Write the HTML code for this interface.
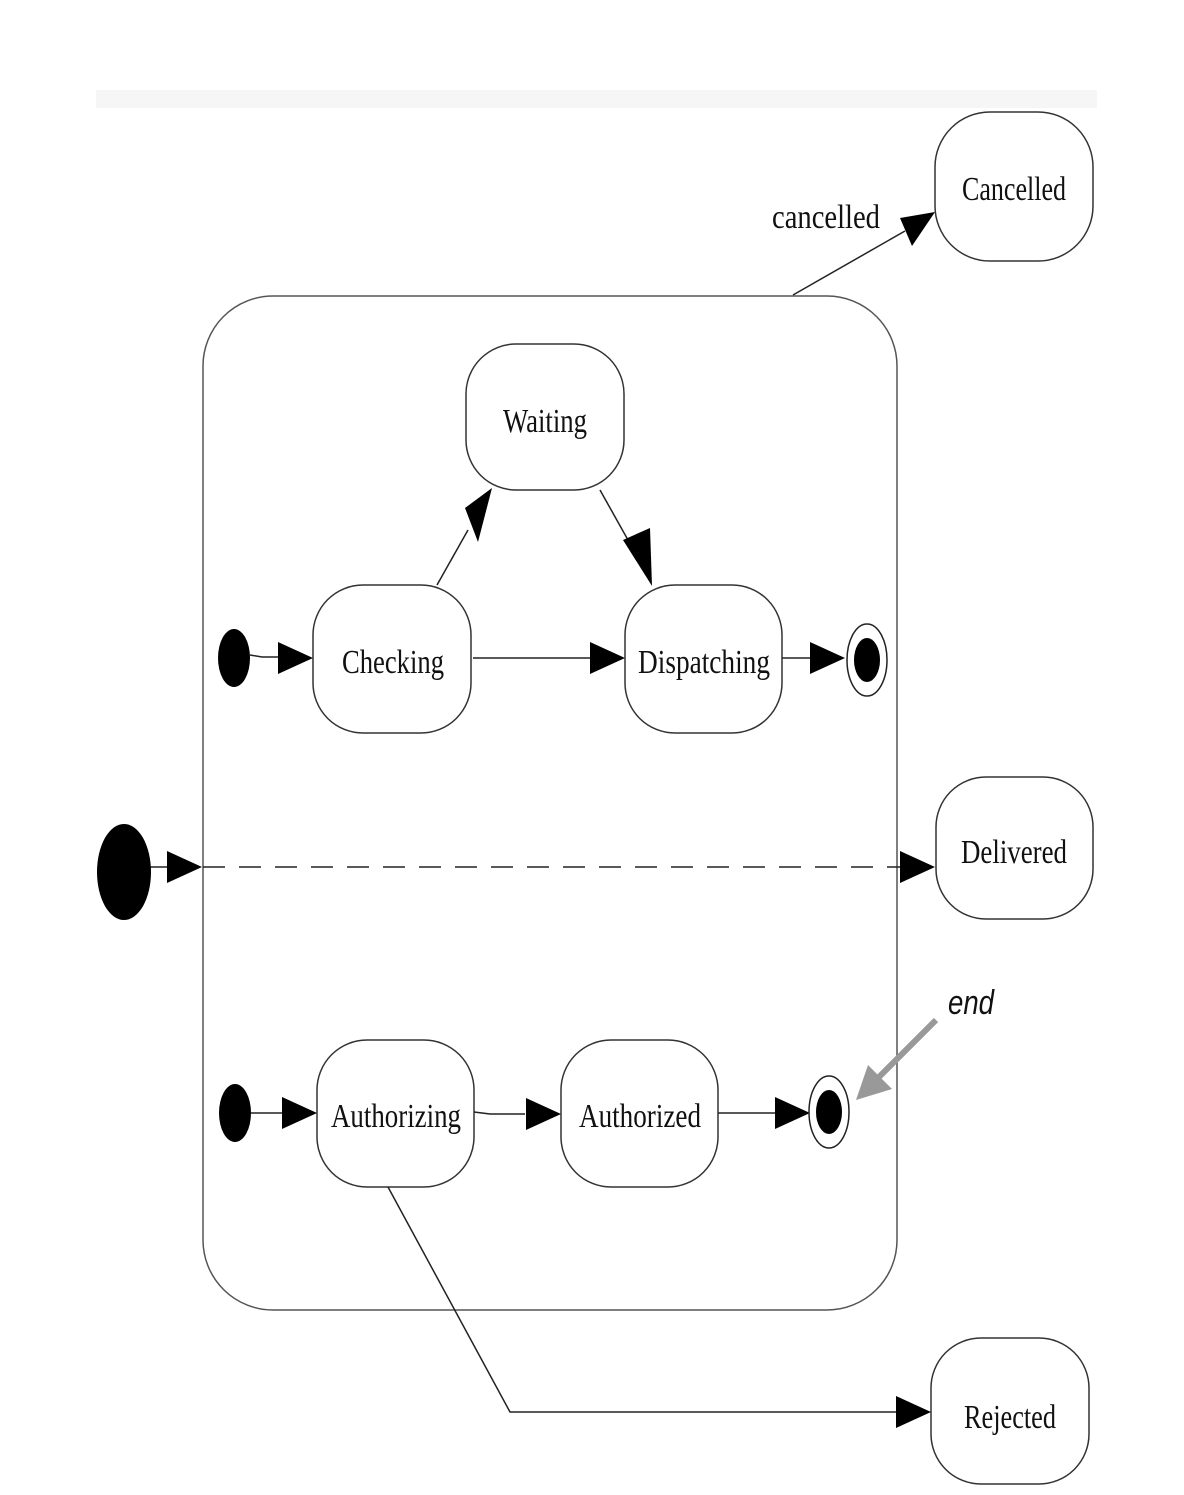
<!DOCTYPE html>
<html><head><meta charset="utf-8"><style>html,body{margin:0;padding:0;background:#fff}svg{display:block}</style></head>
<body>
<svg width="1184" height="1495" viewBox="0 0 1184 1495" xmlns="http://www.w3.org/2000/svg">
<defs>
<marker id="a" markerWidth="10" markerHeight="10" refX="10" refY="5" orient="auto" markerUnits="userSpaceOnUse" viewBox="0 0 10 10"></marker>
</defs>
<rect x="96" y="90" width="1001" height="18" fill="#f6f6f6"/>
<g fill="#fff" stroke="#333" stroke-width="1.5">
<rect x="935" y="112" width="158" height="149" rx="55" ry="55"/>
<rect x="203" y="296" width="694" height="1014" rx="70" ry="70" stroke="#555"/>
<rect x="466" y="344" width="158" height="146" rx="50" ry="50"/>
<rect x="313" y="585" width="158" height="148" rx="50" ry="50"/>
<rect x="625" y="585" width="157" height="148" rx="50" ry="50"/>
<rect x="936" y="777" width="157" height="142" rx="50" ry="50"/>
<rect x="317" y="1040" width="157" height="147" rx="50" ry="50"/>
<rect x="561" y="1040" width="157" height="147" rx="50" ry="50"/>
<rect x="931" y="1338" width="158" height="146" rx="50" ry="50"/>
</g>
<g stroke="#222" stroke-width="1.5" fill="none">
<line x1="793" y1="295" x2="905" y2="231"/>
<line x1="437" y1="585" x2="468" y2="530"/>
<line x1="600" y1="490" x2="628" y2="540"/>
<polyline points="250,655 262,657 280,657"/>
<line x1="473" y1="658" x2="590" y2="658"/>
<line x1="782" y1="658" x2="810" y2="658"/>
<line x1="150" y1="867" x2="168" y2="867"/>
<line x1="203" y1="867" x2="900" y2="867" stroke-dasharray="22,14"/>
<line x1="250" y1="1113" x2="283" y2="1113"/>
<polyline points="474,1112 490,1114 525,1114"/>
<line x1="718" y1="1113" x2="775" y2="1113"/>
<polyline points="388,1187 510,1412 897,1412"/>
</g>
<g fill="#000">
<polygon points="935,212 900,218 912,246"/>
<polygon points="492,488 465,508 478,542"/>
<polygon points="652,586 623,540 650,528"/>
<polygon points="313,658 278,642 278,674"/>
<polygon points="625,658 590,642 590,674"/>
<polygon points="845,658 810,642 810,674"/>
<polygon points="202,867 167,851 167,883"/>
<polygon points="935,867 900,851 900,883"/>
<polygon points="317,1113 282,1097 282,1129"/>
<polygon points="561,1114 526,1098 526,1130"/>
<polygon points="810,1113 775,1097 775,1129"/>
<polygon points="931,1412 896,1396 896,1428"/>
<ellipse cx="234" cy="658" rx="16" ry="29"/>
<ellipse cx="124" cy="872" rx="27" ry="48"/>
<ellipse cx="235" cy="1113" rx="16" ry="29"/>
<ellipse cx="867" cy="660" rx="13" ry="22"/>
<ellipse cx="829" cy="1112" rx="13" ry="22"/>
</g>
<g fill="none" stroke="#222" stroke-width="1.5">
<ellipse cx="867" cy="660" rx="20" ry="36"/>
<ellipse cx="829" cy="1112" rx="20" ry="36"/>
</g>
<line x1="936" y1="1020" x2="878" y2="1078" stroke="#999" stroke-width="6"/>
<polygon points="856,1100 868,1065 892,1089" fill="#999"/>
<g font-family="Liberation Serif, serif" font-size="34" fill="#111" text-anchor="middle" lengthAdjust="spacingAndGlyphs">
<text x="1014" y="200" textLength="104" lengthAdjust="spacingAndGlyphs">Cancelled</text>
<text x="545" y="432" textLength="84" lengthAdjust="spacingAndGlyphs">Waiting</text>
<text x="393" y="673" textLength="102" lengthAdjust="spacingAndGlyphs">Checking</text>
<text x="704" y="673" textLength="132" lengthAdjust="spacingAndGlyphs">Dispatching</text>
<text x="1014" y="863" textLength="106" lengthAdjust="spacingAndGlyphs">Delivered</text>
<text x="396" y="1127" textLength="130" lengthAdjust="spacingAndGlyphs">Authorizing</text>
<text x="640" y="1127" textLength="122" lengthAdjust="spacingAndGlyphs">Authorized</text>
<text x="1010" y="1428" textLength="92" lengthAdjust="spacingAndGlyphs">Rejected</text>
<text x="826" y="228" textLength="108" lengthAdjust="spacingAndGlyphs">cancelled</text>
</g>
<text x="948" y="1014" font-family="Liberation Sans, sans-serif" font-style="italic" font-size="34" fill="#111" textLength="46" lengthAdjust="spacingAndGlyphs">end</text>
</svg>
</body></html>
